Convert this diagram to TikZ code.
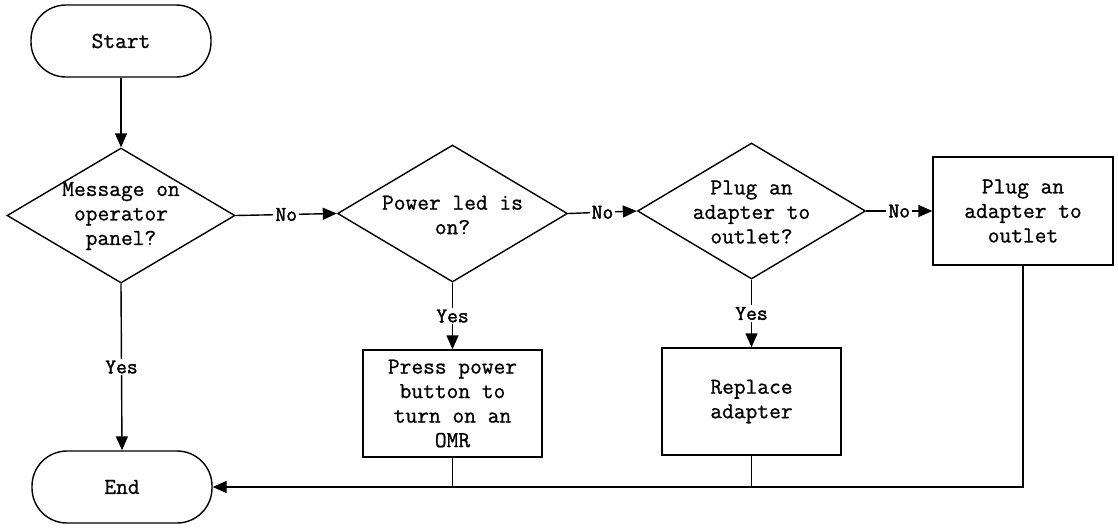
\documentclass[tikz,border=0pt]{standalone}
\usepackage{fontspec}
\newfontfamily\flowtt{Latin Modern Mono}[FakeBold=0.9]
\newfontfamily\flowlbl{Latin Modern Mono}[FakeBold=1.6]
\usetikzlibrary{shapes.geometric,arrows.meta}
\begin{document}
\begin{tikzpicture}[x=1pt,y=-1pt,
  txt/.style={font=\flowtt\fontsize{22.8}{24.5}\selectfont, align=center},
  term/.style={draw, line width=1.4pt, rounded corners=35pt, minimum width=180pt, minimum height=72pt, txt},
  proc/.style={draw, line width=1.4pt, txt, inner sep=0pt, minimum width=179pt, minimum height=107pt},
  decision/.style={draw, diamond, line width=1.4pt, inner sep=0pt},
  arr/.style={line width=1.4pt, -{Triangle[length=14pt,width=12pt]}},
  conn/.style={line width=1.4pt},
  lbl/.style={fill=white, inner sep=2pt, font=\flowlbl\fontsize{21}{22}\selectfont}
]
\useasboundingbox (0,0) rectangle (1118,528);
\node[term] (start) at (121,41) {Start};
\node[decision, minimum width=228pt, minimum height=135pt] (d1) at (121,215.5) {};
\node[txt] (d1t) at (121,216) {Message on\\operator\\panel?};
\node[decision, minimum width=230pt, minimum height=137pt] (d2) at (452.5,213.5) {};
\node[txt] (d2t) at (452.5,215) {Power led is\\on?};
\node[decision, minimum width=228pt, minimum height=136pt] (d3) at (751.5,211) {};
\node[txt] (d3t) at (751.5,212) {Plug an\\adapter to\\outlet?};
\node[proc, minimum width=180pt, minimum height=108pt] (b4) at (1023,211) {Plug an\\adapter to\\outlet};
\node[proc] (b2) at (452.5,403.5) {Press power\\button to\\turn on an\\OMR};
\node[proc] (b3) at (751.5,401.5) {Replace\\adapter};
\node[term] (end) at (122,487) {End};

\draw[arr] (start) -- (d1.north);
\draw[arr] (d1.east) -- node[lbl] {No} (d2.west);
\draw[arr] (d2.east) -- node[lbl] {No} (d3.west);
\draw[arr] (d3.east) -- node[lbl] {No} (b4.west);
\draw[arr] (d1.south) -- node[lbl] {Yes} (end.north);
\draw[arr] (d2.south) -- node[lbl] {Yes} (b2.north);
\draw[arr] (d3.south) -- node[lbl] {Yes} (b3.north);
\draw[arr] (b4.south) |- (end.east);
\draw[conn] (b2.south) -- (b2.south |- end.east);
\draw[conn] (b3.south) -- (b3.south |- end.east);
\end{tikzpicture}
\end{document}
